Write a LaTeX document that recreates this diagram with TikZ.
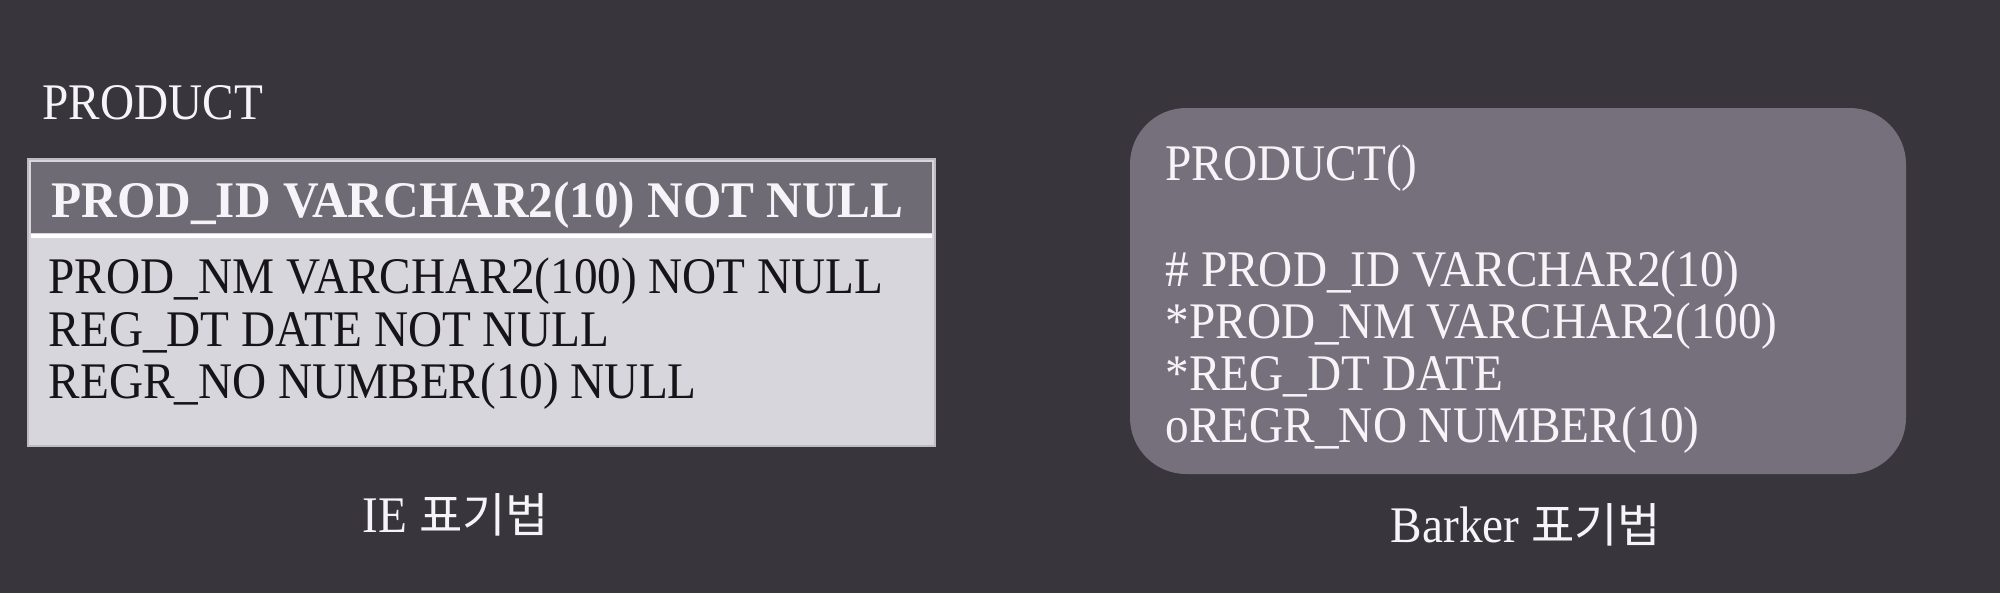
\documentclass[tikz,border=0pt]{standalone}
\usepackage{fontspec}
\setmainfont[FakeStretch=0.92]{Liberation Serif}
\newfontfamily\headfont[FakeStretch=0.96]{Liberation Serif}
\newfontfamily\krfont{Noto Sans CJK KR}
\definecolor{slidebg}{RGB}{57,53,60}
\definecolor{headgray}{RGB}{111,107,116}
\definecolor{bodygray}{RGB}{216,214,221}
\definecolor{edgegray}{RGB}{190,188,194}
\definecolor{barkergray}{RGB}{117,112,123}
\definecolor{inkdark}{RGB}{22,20,24}
\definecolor{inklight}{RGB}{246,244,248}

\begin{document}
\begin{tikzpicture}[
    x=0.01cm, y=-0.01cm,
    txt/.style={anchor=base west, inner sep=0pt, font=\fontsize{14.6}{15}\selectfont},
    darktxt/.style={txt, text=inkdark},
    lighttxt/.style={txt, text=inklight},
    caption/.style={anchor=base, inner sep=0pt, text=inklight, font=\fontsize{14.6}{15}\selectfont}
  ]
  % slide background
  \fill[slidebg] (0,0) rectangle (2000,593);
  \useasboundingbox (0,0) rectangle (2000,593);

  % IE notation
  \node (ie_title) [lighttxt] at (42,119) {PRODUCT};
  \draw[edgegray, fill=bodygray, line width=0.8pt] (28,159) rectangle (935,446);
  \fill[headgray] (31,162) rectangle (932,233);
  \draw[white, line width=1.2pt] (31,236) -- (932,236);
  \node (ie_key) [lighttxt, font=\fontsize{14.6}{15}\headfont\bfseries] at (51,217) {PROD\_ID VARCHAR2(10) NOT NULL};
  \node (ie_nm) [darktxt] at (48,293) {PROD\_NM VARCHAR2(100) NOT NULL};
  \node (ie_dt) [darktxt] at (48,346) {REG\_DT DATE NOT NULL};
  \node (ie_no) [darktxt] at (48,398) {REGR\_NO NUMBER(10) NULL};
  \node (ie_cap) [caption] at (456,532) {IE {\krfont\fontsize{13.4}{14}\selectfont 표기법}};

  % Barker notation
  \fill[barkergray, rounded corners=16pt] (1130,108) rectangle (1906,474);
  \node (bk_title) [lighttxt] at (1165,180) {PRODUCT()};
  \node (bk_id) [lighttxt] at (1165,286) {\# PROD\_ID VARCHAR2(10)};
  \node (bk_nm) [lighttxt] at (1165,338) {*PROD\_NM VARCHAR2(100)};
  \node (bk_dt) [lighttxt] at (1165,390) {*REG\_DT DATE};
  \node (bk_no) [lighttxt] at (1165,442) {oREGR\_NO NUMBER(10)};
  \node (bk_cap) [caption] at (1526,542) {Barker {\krfont\fontsize{13.4}{14}\selectfont 표기법}};
\end{tikzpicture}
\end{document}
